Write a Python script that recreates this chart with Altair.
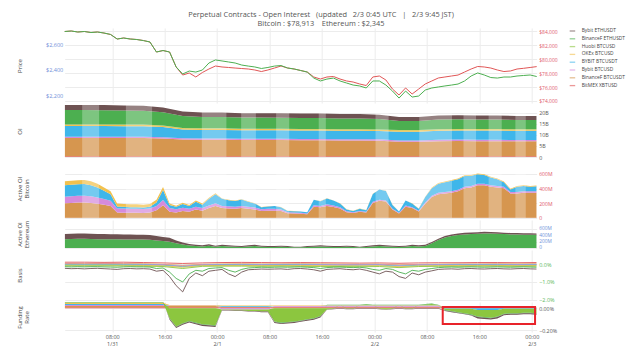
import altair as alt
import pandas as pd

SERIES = ["Bybit ETHUSDT", "BinanceF ETHUSDT", "Huobi BTCUSD", "OKEx BTCUSD",
          "BYBIT BTCUSDT", "Bybit BTCUSD", "BinanceF BTCUSDT", "BitMEX XBTUSD"]
COLORS = ["#6e5252", "#4caf50", "#8cc63f", "#f2c14e",
          "#3fb6ea", "#d58bdc", "#d6964f", "#e05555"]
# stacking position (0 = closest to zero)
STACK_RANK = {"BitMEX XBTUSD": 0, "BinanceF BTCUSDT": 1, "Bybit BTCUSD": 2,
              "BYBIT BTCUSDT": 3, "OKEx BTCUSD": 4, "Huobi BTCUSD": 5,
              "BinanceF ETHUSDT": 6, "Bybit ETHUSDT": 7}

START = pd.Timestamp("2025-01-31 00:45:00")
HOURLY = [(START + pd.Timedelta(hours=i)).strftime("%Y-%m-%dT%H:%M:%SZ") for i in range(73)]
EVERY3H = [(START + pd.Timedelta(hours=i)).strftime("%Y-%m-%dT%H:%M:%SZ") for i in range(0, 73, 3)]

# ---------------- Price (hourly) ----------------
BTC = [83930, 84000, 83860, 83930, 83790, 83860, 83710, 83500, 82860, 83000,
       82860, 82790, 82640, 82430, 81000, 81210, 81000, 78860, 77710, 78000,
       77430, 78070, 78570, 79000, 78860, 78790, 78710, 78640, 78570, 78430,
       78210, 78430, 78710, 79000, 78710, 78570, 78360, 78140, 77430, 77140,
       77430, 77500, 77140, 76860, 76710, 76430, 76210, 77430, 77570, 77000,
       75710, 74860, 75860, 75000, 75710, 76430, 76860, 77290, 77430, 77570,
       77710, 78140, 78570, 78930, 78860, 78710, 78430, 78210, 78290, 78570,
       78670, 78790, 78913]
ETH = [2698, 2702, 2694, 2698, 2690, 2694, 2686, 2675, 2639, 2647,
       2639, 2635, 2627, 2616, 2537, 2549, 2537, 2420, 2365, 2388,
       2380, 2396, 2451, 2475, 2467, 2459, 2451, 2435, 2427, 2420,
       2408, 2416, 2427, 2431, 2412, 2404, 2392, 2380, 2333, 2310,
       2325, 2333, 2310, 2294, 2278, 2271, 2255, 2310, 2310, 2278,
       2231, 2176, 2231, 2184, 2192, 2239, 2255, 2263, 2271, 2278,
       2286, 2310, 2349, 2373, 2357, 2337, 2333, 2341, 2341, 2349,
       2353, 2357, 2345]

# ---------------- OI (billions, every 3h) ----------------
OI = {
    "BitMEX XBTUSD": [0.3, 0.3, 0.3, 0.3, 0.3, 0.3, 0.3, 0.3, 0.3, 0.3, 0.3, 0.3, 0.3,
                      0.3, 0.3, 0.3, 0.3, 0.3, 0.3, 0.3, 0.3, 0.3, 0.3, 0.3, 0.3],
    "BinanceF BTCUSDT": [8.3, 8.3, 8.3, 8.3, 8.3, 8.1, 7.6, 7.5, 7.5, 7.4, 7.4, 7.4, 7.3,
                         7.3, 7.2, 7.2, 7.1, 6.6, 6.6, 6.9, 7.0, 6.9, 6.9, 6.8, 6.8],
    "Bybit BTCUSD": [0.6, 0.6, 0.6, 0.6, 0.6, 0.6, 0.6, 0.6, 0.6, 0.6, 0.6, 0.6, 0.6,
                     0.6, 0.6, 0.6, 0.6, 0.6, 0.6, 0.6, 0.6, 0.6, 0.6, 0.6, 0.6],
    "BYBIT BTCUSDT": [4.9, 4.9, 4.9, 4.8, 4.8, 4.6, 4.0, 3.9, 3.9, 3.8, 3.8, 3.8, 3.8,
                      3.8, 3.8, 3.8, 3.8, 4.0, 4.0, 4.1, 4.1, 4.2, 4.2, 4.2, 4.2],
    "OKEx BTCUSD": [0.6, 0.6, 0.6, 0.6, 0.6, 0.6, 0.6, 0.6, 0.6, 0.6, 0.6, 0.6, 0.6,
                    0.6, 0.6, 0.6, 0.6, 0.6, 0.6, 0.6, 0.6, 0.6, 0.6, 0.6, 0.6],
    "Huobi BTCUSD": [0.1, 0.1, 0.1, 0.1, 0.1, 0.1, 0.1, 0.1, 0.1, 0.1, 0.1, 0.1, 0.1,
                     0.1, 0.1, 0.1, 0.1, 0.1, 0.1, 0.1, 0.1, 0.1, 0.1, 0.1, 0.1],
    "BinanceF ETHUSDT": [6.5, 6.5, 6.4, 6.4, 6.3, 6.0, 5.4, 5.2, 5.2, 5.1, 5.1, 5.0, 5.0,
                         5.0, 4.9, 4.9, 4.8, 4.1, 4.1, 4.4, 4.4, 4.3, 4.3, 4.2, 4.2],
    "Bybit ETHUSDT": [2.3, 2.3, 2.4, 2.3, 2.3, 2.2, 2.0, 2.0, 2.0, 2.0, 2.0, 2.0, 2.0,
                      2.0, 2.0, 2.0, 1.9, 1.8, 1.8, 1.8, 1.8, 1.8, 1.8, 1.8, 1.8],
}
# lighter vertical bands seen in the OI / Active OI fills (start, end as UTC times)
BANDS_START = ["2025-01-31T03:25:00Z", "2025-01-31T10:05:00Z", "2025-01-31T21:40:00Z",
               "2025-02-01T03:40:00Z", "2025-02-01T09:00:00Z", "2025-02-01T15:30:00Z",
               "2025-02-02T00:10:00Z", "2025-02-02T06:50:00Z", "2025-02-02T13:35:00Z",
               "2025-02-02T17:25:00Z", "2025-02-02T21:30:00Z"]
BANDS_END = ["2025-01-31T06:00:00Z", "2025-01-31T14:05:00Z", "2025-02-01T01:25:00Z",
             "2025-02-01T05:55:00Z", "2025-02-01T11:00:00Z", "2025-02-01T16:35:00Z",
             "2025-02-02T02:10:00Z", "2025-02-02T11:50:00Z", "2025-02-02T15:30:00Z",
             "2025-02-02T19:25:00Z", "2025-02-02T23:05:00Z"]

# ---------------- Active OI Bitcoin (millions, hourly) ----------------
ABTC = {
    "BitMEX XBTUSD": [5, 5, 5, 5, 5, 5, 5, 5, 5, 5, 5, 5, 5, 5, 5, 5, 5, 5, 5, 5,
                      5, 5, 5, 5, 5, 5, 5, 5, 5, 5, 5, 5, 5, 5, 5, 5, 5, 5, 5, 5,
                      5, 5, 5, 5, 5, 5, 5, 5, 5, 5, 5, 5, 5, 5, 5, 5, 5, 5, 5, 5,
                      5, 5, 5, 5, 5, 5, 5, 5, 5, 5, 5, 5, 5],
    "BinanceF BTCUSDT": [195, 200, 205, 205, 200, 190, 175, 160, 70, 68,
                         66, 66, 64, 70, 100, 170, 80, 70, 90, 80,
                         110, 95, 130, 160, 130, 125, 120, 130, 120, 110,
                         90, 95, 95, 90, 60, 55, 52, 45, 150, 140,
                         160, 145, 125, 75, 62, 80, 70, 200, 230, 220,
                         110, 55, 150, 130, 85, 190, 280, 320, 330, 340,
                         360, 400, 410, 440, 440, 420, 410, 400, 330, 330,
                         340, 340, 340],
    "Bybit BTCUSD": [90, 90, 92, 92, 90, 85, 80, 70, 55, 55,
                     54, 54, 52, 55, 60, 70, 50, 45, 45, 40,
                     40, 35, 35, 35, 30, 30, 30, 30, 28, 28,
                     25, 25, 25, 22, 15, 15, 14, 12, 20, 20,
                     22, 20, 18, 12, 10, 12, 10, 15, 15, 15,
                     12, 10, 15, 12, 10, 15, 18, 20, 20, 20,
                     20, 22, 22, 22, 22, 22, 20, 20, 18, 18,
                     18, 18, 18],
    "BYBIT BTCUSDT": [155, 157, 157, 160, 152, 137, 112, 89, 27, 24,
                      22, 22, 21, 22, 47, 138, 42, 32, 52, 37,
                      67, 47, 92, 122, 97, 82, 77, 87, 69, 54,
                      27, 32, 37, 30, 17, 17, 16, 15, 72, 62,
                      80, 67, 49, 25, 20, 30, 22, 107, 137, 127,
                      50, 17, 67, 50, 27, 77, 104, 122, 132, 142,
                      142, 145, 140, 130, 120, 105, 92, 62, 34, 74,
                      72, 64, 69],
    "OKEx BTCUSD": [55, 55, 55, 55, 55, 50, 45, 40, 40, 40,
                    40, 40, 40, 40, 35, 40, 20, 15, 15, 15,
                    15, 15, 15, 15, 5, 5, 5, 5, 5, 3,
                    3, 3, 3, 3, 3, 3, 3, 3, 3, 3,
                    3, 3, 3, 3, 3, 3, 3, 3, 3, 3,
                    3, 3, 3, 3, 3, 3, 10, 10, 10, 10,
                    10, 10, 10, 10, 10, 10, 10, 10, 10, 10,
                    10, 10, 10],
}

# ---------------- Active OI Ethereum (millions, hourly) ----------------
AETH = {
    "BinanceF ETHUSDT": [280, 285, 290, 290, 285, 280, 280, 275, 275, 270,
                         270, 265, 265, 260, 240, 220, 200, 150, 110, 80,
                         60, 50, 70, 40, 60, 50, 40, 30, 50, 60,
                         40, 30, 30, 40, 30, 20, 20, 30, 40, 50,
                         40, 30, 30, 40, 30, 20, 30, 50, 60, 50,
                         40, 30, 40, 60, 50, 60, 150, 250, 330, 380,
                         410, 430, 440, 450, 460, 455, 450, 440, 430, 430,
                         420, 420, 415],
    "Bybit ETHUSDT": [160, 165, 170, 170, 165, 160, 160, 160, 160, 155,
                      155, 150, 150, 150, 140, 130, 120, 90, 60, 50,
                      40, 40, 50, 30, 40, 40, 30, 30, 40, 40,
                      30, 30, 30, 30, 30, 20, 20, 30, 30, 40,
                      30, 30, 30, 30, 30, 20, 30, 40, 40, 40,
                      30, 30, 30, 40, 40, 40, 40, 45, 50, 50,
                      50, 50, 50, 50, 50, 50, 45, 45, 45, 45,
                      45, 45, 45],
}

# ---------------- Basis (%) ----------------
BASIS_BTC = {  # every 3h
    "BitMEX XBTUSD": [0.10, 0.10, 0.09, 0.10, 0.08, 0.06, 0.03, 0.06, 0.08, 0.09, 0.08, 0.07, 0.08,
                      0.07, 0.06, 0.05, 0.06, 0.04, 0.06, 0.07, 0.07, 0.08, 0.08, 0.07, 0.08],
    "BinanceF BTCUSDT": [0.03, 0.02, 0.03, 0.02, 0.01, -0.02, -0.08, -0.02, 0.0, 0.01, 0.0, 0.0, 0.01,
                         0.0, -0.01, -0.02, -0.01, -0.05, -0.02, -0.01, 0.0, 0.0, 0.01, 0.0, 0.01],
    "Bybit BTCUSD": [0.0, -0.01, 0.0, -0.01, -0.02, -0.04, -0.12, -0.04, -0.03, -0.02, -0.03, -0.02, -0.02,
                     -0.03, -0.04, -0.04, -0.03, -0.08, -0.04, -0.03, -0.02, -0.02, -0.02, -0.03, -0.02],
    "BYBIT BTCUSDT": [-0.03, -0.04, -0.03, -0.04, -0.05, -0.07, -0.15, -0.07, -0.05, -0.05, -0.06, -0.05, -0.05,
                      -0.06, -0.07, -0.07, -0.06, -0.12, -0.07, -0.06, -0.05, -0.05, -0.05, -0.06, -0.05],
    "OKEx BTCUSD": [-0.06, -0.07, -0.06, -0.07, -0.08, -0.10, -0.18, -0.09, -0.08, -0.08, -0.09, -0.08, -0.08,
                    -0.09, -0.10, -0.10, -0.09, -0.15, -0.10, -0.09, -0.08, -0.08, -0.08, -0.09, -0.08],
    "Huobi BTCUSD": [-0.10, -0.11, -0.10, -0.11, -0.12, -0.14, -0.25, -0.13, -0.12, -0.12, -0.13, -0.12, -0.13,
                     -0.14, -0.14, -0.15, -0.14, -0.20, -0.14, -0.13, -0.13, -0.12, -0.12, -0.13, -0.12],
}
BASIS_ETH = {  # hourly
    "BinanceF ETHUSDT": [-0.15, -0.16, -0.15, -0.16, -0.15, -0.15, -0.16, -0.17, -0.18, -0.16, -0.15, -0.16,
                         -0.16, -0.17, -0.25, -0.22, -0.45, -0.80, -1.00, -0.55, -0.35, -0.40, -0.25, -0.22,
                         -0.20, -0.35, -0.45, -0.30, -0.22, -0.20, -0.18, -0.19, -0.18, -0.17, -0.18, -0.17,
                         -0.16, -0.18, -0.20, -0.25, -0.20, -0.18, -0.17, -0.19, -0.20, -0.18, -0.22, -0.30,
                         -0.35, -0.25, -0.30, -0.45, -0.55, -0.35, -0.40, -0.30, -0.25, -0.20, -0.18, -0.17,
                         -0.18, -0.17, -0.16, -0.17, -0.18, -0.17, -0.16, -0.17, -0.18, -0.17, -0.16, -0.17,
                         -0.18],
    "Bybit ETHUSDT": [-0.24, -0.26, -0.25, -0.27, -0.25, -0.24, -0.26, -0.28, -0.30, -0.26, -0.25, -0.27,
                      -0.26, -0.28, -0.40, -0.35, -0.70, -1.20, -1.55, -0.80, -0.50, -0.65, -0.40, -0.35,
                      -0.30, -0.55, -0.70, -0.45, -0.32, -0.30, -0.28, -0.29, -0.28, -0.27, -0.30, -0.26,
                      -0.25, -0.28, -0.32, -0.40, -0.30, -0.28, -0.26, -0.30, -0.32, -0.28, -0.35, -0.45,
                      -0.55, -0.40, -0.45, -0.70, -0.80, -0.50, -0.60, -0.45, -0.38, -0.30, -0.28, -0.27,
                      -0.29, -0.26, -0.25, -0.27, -0.28, -0.26, -0.25, -0.27, -0.28, -0.26, -0.25, -0.27,
                      -0.28],
}

# ---------------- Funding rate (%, hourly) ----------------
FUND = {
    "BitMEX XBTUSD": [0.01, 0.01, 0.01, 0.01, 0.01, 0.01, 0.01, 0.01, 0.01, 0.01, 0.01, 0.01,
                      0.01, 0.01, 0.01, 0.01, 0.01, 0.01, 0.01, 0.01, 0.01, 0.01, 0.01, 0.01,
                      0.01, 0.01, 0.01, 0.01, 0.01, 0.01, 0.01, 0.01, 0.01, 0.01, 0.01, 0.01,
                      0.01, 0.01, 0.01, 0.01, 0.01, 0.01, 0.01, 0.01, 0.01, 0.01, 0.01, 0.01,
                      0.01, 0.01, 0.01, 0.01, 0.01, 0.01, 0.01, 0.01, 0.01, 0.01, 0.005, 0.005,
                      0.005, 0.005, 0.005, 0.005, 0.005, 0.005, 0.005, 0.005, 0.005, 0.005, 0.005, 0.005,
                      0.005],
    "BinanceF BTCUSDT": [0.01, 0.01, 0.01, 0.01, 0.01, 0.01, 0.01, 0.01, 0.01, 0.01, 0.01, 0.01,
                         0.01, 0.01, 0.01, 0.01, 0.01, 0.01, 0.01, 0.01, 0.01, 0.01, 0.01, 0.01,
                         0.005, 0.005, 0.005, 0.005, 0.005, 0.005, 0.005, 0.005, 0.005, 0.005, 0.005, 0.005,
                         0.005, 0.005, 0.005, 0.005, 0.005, 0.005, 0.005, 0.005, 0.005, 0.005, 0.005, 0.005,
                         0.005, 0.005, 0.005, 0.005, 0.005, 0.005, 0.005, 0.005, 0.005, 0.005, 0.003, 0.003,
                         0.003, 0.003, 0.003, 0.003, 0.003, 0.003, 0.003, 0.003, 0.003, 0.003, 0.003, 0.003,
                         0.003],
    "Bybit BTCUSD": [0.01, 0.01, 0.01, 0.01, 0.01, 0.01, 0.01, 0.01, 0.01, 0.01, 0.01, 0.01,
                     0.01, 0.01, 0.01, 0.01, 0.005, 0.005, 0.005, 0.005, 0.005, 0.005, 0.005, 0.005,
                     -0.01, -0.01, -0.01, -0.01, -0.01, -0.01, -0.01, -0.01, 0.005, 0.005, 0.005, 0.005,
                     0.005, 0.005, 0.005, 0.005, 0.005, 0.005, 0.005, 0.005, 0.005, 0.005, 0.005, 0.005,
                     0.005, 0.005, 0.005, 0.005, 0.005, 0.005, 0.005, 0.005, 0.005, 0.005, 0.0, 0.0,
                     0.0, 0.0, 0.0, 0.0, 0.0, 0.0, 0.0, 0.0, 0.0, 0.0, 0.0, 0.0,
                     0.0],
    "BYBIT BTCUSDT": [0.01, 0.01, 0.01, 0.01, 0.01, 0.01, 0.01, 0.01, 0.01, 0.01, 0.01, 0.01,
                      0.01, 0.01, 0.01, 0.01, 0.0, 0.0, 0.0, 0.0, 0.0, 0.0, 0.0, 0.0,
                      0.005, 0.005, 0.005, 0.005, 0.005, 0.005, 0.005, 0.005, 0.0, 0.0, 0.0, 0.0,
                      0.0, 0.0, 0.0, 0.0, 0.005, 0.005, 0.005, 0.005, 0.005, 0.005, 0.005, 0.005,
                      0.005, 0.005, 0.005, 0.005, 0.005, 0.005, 0.005, 0.005, 0.005, 0.005, -0.005, -0.005,
                      -0.005, -0.005, -0.005, -0.015, -0.015, -0.015, -0.015, -0.005, -0.005, -0.005, -0.005, -0.005,
                      -0.005],
    "OKEx BTCUSD": [0.01, 0.01, 0.01, 0.01, 0.01, 0.01, 0.01, 0.01, 0.01, 0.01, 0.01, 0.01,
                    0.01, 0.01, 0.01, 0.01, 0.005, 0.005, 0.005, 0.005, 0.005, 0.005, 0.005, 0.005,
                    0.005, 0.005, 0.005, 0.005, 0.005, 0.005, 0.005, 0.005, 0.005, 0.005, 0.005, 0.005,
                    0.005, 0.005, 0.005, 0.005, 0.005, 0.005, 0.005, 0.005, 0.005, 0.005, 0.005, 0.005,
                    0.005, 0.005, 0.005, 0.005, 0.005, 0.005, 0.005, 0.005, 0.005, 0.005, 0.002, 0.002,
                    0.002, 0.002, 0.002, 0.002, 0.002, 0.002, 0.002, 0.002, 0.002, 0.002, 0.002, 0.002,
                    0.002],
    "Huobi BTCUSD": [0.005, 0.005, 0.005, 0.005, 0.005, 0.005, 0.005, 0.005, 0.005, 0.005, 0.005, 0.005,
                     0.005, 0.005, 0.005, 0.005, -0.09, -0.165, -0.135, -0.115, -0.13, -0.145, -0.15, -0.155,
                     -0.005, -0.005, -0.01, -0.01, -0.015, -0.015, -0.02, -0.02, -0.12, -0.13, -0.125, -0.12,
                     -0.11, -0.10, -0.09, -0.07, -0.01, -0.005, 0.0, -0.005, -0.005, 0.0, 0.005, 0.0,
                     -0.005, -0.01, -0.005, 0.0, -0.005, -0.005, 0.0, 0.005, 0.01, 0.0, -0.01, -0.02,
                     -0.03, -0.04, -0.05, -0.06, -0.065, -0.07, -0.06, -0.045, -0.04, -0.04, -0.035, -0.035,
                     -0.04],
    "BinanceF ETHUSDT": [0.005, 0.005, 0.005, 0.005, 0.005, 0.005, 0.005, 0.005, 0.005, 0.005, 0.005, 0.005,
                         0.005, 0.005, 0.005, 0.005, -0.005, -0.005, -0.005, -0.005, -0.005, -0.005, -0.005, -0.005,
                         0.0, 0.0, 0.0, 0.0, 0.0, 0.0, 0.0, 0.0, -0.005, -0.005, -0.005, -0.005,
                         -0.005, -0.005, -0.005, -0.005, 0.003, 0.003, 0.003, 0.003, 0.003, 0.003, 0.003, 0.003,
                         0.003, 0.003, 0.003, 0.003, 0.003, 0.003, 0.003, 0.003, 0.003, 0.003, -0.005, -0.005,
                         -0.005, -0.005, -0.005, -0.005, -0.005, -0.005, -0.005, -0.005, -0.005, -0.005, -0.005, -0.005,
                         -0.005],
    "Bybit ETHUSDT": [0.005, 0.005, 0.005, 0.005, 0.005, 0.005, 0.005, 0.005, 0.005, 0.005, 0.005, 0.005,
                      0.005, 0.005, 0.005, 0.005, -0.01, -0.01, -0.01, -0.01, -0.01, -0.01, -0.01, -0.01,
                      -0.005, -0.005, -0.005, -0.005, -0.005, -0.005, -0.005, -0.005, -0.008, -0.008, -0.008, -0.008,
                      -0.008, -0.008, -0.008, -0.008, -0.003, -0.003, -0.003, -0.003, -0.003, -0.003, -0.003, -0.003,
                      -0.003, -0.003, -0.003, -0.003, -0.003, -0.003, -0.003, -0.003, -0.003, -0.003, -0.005, -0.005,
                      -0.005, -0.005, -0.005, -0.012, -0.012, -0.012, -0.012, -0.008, -0.008, -0.008, -0.008, -0.008,
                      -0.008],
}

# annotation box in the funding panel
BOX = {"t": ["2025-02-02T10:25:00Z"], "t2": ["2025-02-03T00:30:00Z"], "y": [0.012], "y2": [-0.143]}


def long_df(times, table):
    rows = []
    for name, vals in table.items():
        assert len(vals) == len(times), name
        for t, v in zip(times, vals):
            rows.append({"t": t, "s": name, "v": v, "k": STACK_RANK[name]})
    return pd.DataFrame(rows)


W = 472
FONT = "Open Sans"
LFS = 5.5     # tick label font size
TFS = 6       # axis title font size
TITLE_X = -48.3
CS = alt.Scale(domain=SERIES, range=COLORS)
XS = alt.Scale(type="utc", domain=[
    alt.DateTime(year=2025, month=1, date=31, hours=0, minutes=45, utc=True),
    alt.DateTime(year=2025, month=2, date=3, hours=0, minutes=45, utc=True)])
TICKS = [alt.DateTime(year=2025, month=m, date=d, hours=h, utc=True)
         for (m, d, h) in [(1, 31, 8), (1, 31, 16), (2, 1, 0), (2, 1, 8), (2, 1, 16),
                           (2, 2, 0), (2, 2, 8), (2, 2, 16), (2, 3, 0)]]
LABEL_EXPR = ("utchours(datum.value) == 0 || (utcdate(datum.value) == 31 && utchours(datum.value) == 8)"
              " ? [utcFormat(datum.value, '%H:%M'), utcFormat(datum.value, '%-m/%-d')]"
              " : utcFormat(datum.value, '%H:%M')")


def xenc(bottom=False):
    if bottom:
        ax = alt.Axis(values=TICKS, grid=True, gridColor="#ececec", ticks=False, domain=False,
                      labels=True, labelExpr=LABEL_EXPR, labelFontSize=LFS, labelColor="#555",
                      labelPadding=3, labelLineHeight=6.5, title=None)
    else:
        ax = alt.Axis(values=TICKS, grid=True, gridColor="#ececec", ticks=False, domain=False,
                      labels=False, title=None)
    return alt.X("t:T", scale=XS, axis=ax)


def raxis(title, h, values, color, label_expr=None, fmt=None, lfs=LFS):
    kw = dict(orient="right", values=values, labelColor=color, labelFontSize=lfs, labelPadding=2,
              ticks=False, domain=False, grid=True, gridColor="#ececec",
              title=title, titleX=-W + TITLE_X, titleY=h / 2, titleAngle=270,
              titleAlign="center", titleBaseline="top", titleFontSize=TFS,
              titleFontWeight="normal", titleColor="#444", titleLineHeight=7)
    if label_expr:
        kw["labelExpr"] = label_expr
    if fmt:
        kw["format"] = fmt
    return alt.Axis(**kw)


def bands():
    # full-height rects (no y channel) that lighten the fills
    df = pd.DataFrame({"t": BANDS_START, "t2": BANDS_END})
    return alt.Chart(df).mark_rect(color="white", opacity=0.28).encode(
        x=alt.X("t:T", scale=XS, axis=None), x2="t2:T")


# ---- Price panel ----
H_PRICE = 75
price_df = pd.DataFrame({"t": HOURLY, "btc": BTC, "eth": ETH})
legend = alt.Legend(title=None, orient="right", offset=9, symbolType="M0,0H2.75",
                    symbolSize=16, symbolStrokeWidth=1.3, symbolOpacity=0.6,
                    labelFontSize=4.9, labelColor="#444", labelFont=FONT,
                    labelOffset=9, rowPadding=1.8, padding=0)
btc_line = alt.Chart(price_df).transform_calculate(s="'BitMEX XBTUSD'").mark_line(
    strokeWidth=1.0).encode(
    x=xenc(),
    y=alt.Y("btc:Q", scale=alt.Scale(domain=[73714, 84429], nice=False, zero=False),
            axis=alt.Axis(orient="right", values=[74000, 76000, 78000, 80000, 82000, 84000],
                          format="$,d", labelColor="#e05a6a", labelFontSize=5, labelPadding=2,
                          ticks=False, domain=False, grid=True, gridColor="#ececec", title=None)),
    color=alt.Color("s:N", scale=CS, legend=legend),
)
eth_line = alt.Chart(price_df).transform_calculate(s="'BinanceF ETHUSDT'").mark_line(
    strokeWidth=1.0).encode(
    x=xenc(),
    y=alt.Y("eth:Q", scale=alt.Scale(domain=[2137.3, 2725.5], nice=False, zero=False),
            axis=alt.Axis(orient="left", values=[2200, 2400, 2600], format="$,d",
                          labelColor="#6d8fd8", labelFontSize=LFS, labelPadding=2,
                          ticks=False, domain=False, grid=False,
                          title="Price", titleX=TITLE_X, titleY=H_PRICE / 2, titleAngle=270,
                          titleAlign="center", titleBaseline="top", titleFontSize=TFS,
                          titleFontWeight="normal", titleColor="#444")),
    color=alt.Color("s:N", scale=CS, legend=legend),
)
price = alt.layer(btc_line, eth_line).resolve_scale(y="independent").properties(
    width=W, height=H_PRICE)

# ---- OI panel ----
H_OI = 52
oi_area = alt.Chart(long_df(EVERY3H, OI)).mark_area(strokeWidth=0, clip=True).encode(
    x=xenc(),
    y=alt.Y("v:Q", stack="zero", scale=alt.Scale(domain=[0, 23.6], nice=False),
            axis=raxis("OI", H_OI, [0, 5, 10, 15, 20], "#555",
                       label_expr="datum.value == 0 ? '0' : datum.value + 'B'", lfs=5.3)),
    color=alt.Color("s:N", scale=CS, legend=None),
    order=alt.Order("k:Q"),
)
oi = alt.layer(oi_area, bands()).properties(width=W, height=H_OI)

# ---- Active OI Bitcoin ----
H_AB = 59
abtc_area = alt.Chart(long_df(HOURLY, ABTC)).mark_area(strokeWidth=0, clip=True).encode(
    x=xenc(),
    y=alt.Y("v:Q", stack="zero", scale=alt.Scale(domain=[0, 804], nice=False),
            axis=raxis(["Active OI", "Bitcoin"], H_AB, [0, 200, 400, 600], "#e05a6a",
                       label_expr="datum.value == 0 ? '0' : datum.value + 'M'", lfs=5.1)),
    color=alt.Color("s:N", scale=CS, legend=None),
    order=alt.Order("k:Q"),
)
abtc = alt.layer(abtc_area, bands()).properties(width=W, height=H_AB)

# ---- Active OI Ethereum ----
H_AE = 28
aeth = alt.Chart(long_df(HOURLY, AETH)).mark_area(strokeWidth=0, clip=True).encode(
    x=xenc(),
    y=alt.Y("v:Q", stack="zero", scale=alt.Scale(domain=[0, 884], nice=False),
            axis=raxis(["Active OI", "Ethereum"], H_AE, [0, 200, 400, 600], "#6d8fd8",
                       label_expr="datum.value == 0 ? '0' : datum.value + 'M'", lfs=4.8)),
    color=alt.Color("s:N", scale=CS, legend=None),
    order=alt.Order("k:Q"),
).properties(width=W, height=H_AE)

# ---- Basis ----
H_BA = 50
basis_df = pd.concat([long_df(EVERY3H, BASIS_BTC), long_df(HOURLY, BASIS_ETH)])
basis = alt.Chart(basis_df).mark_line(strokeWidth=0.9, clip=True).encode(
    x=xenc(),
    y=alt.Y("v:Q", scale=alt.Scale(domain=[-2.0, 0.778], nice=False, zero=False),
            axis=raxis("Basis", H_BA, [0, -1, -2], "#5cb85c",
                       label_expr="format(datum.value, '.1f') + '%'")),
    color=alt.Color("s:N", scale=CS, legend=None),
).properties(width=W, height=H_BA)

# ---- Funding rate ----
H_FR = 30
fund_area = alt.Chart(long_df(HOURLY, FUND)).mark_area(strokeWidth=0, clip=True).encode(
    x=xenc(bottom=True),
    y=alt.Y("v:Q", stack="zero", scale=alt.Scale(domain=[-0.2155, 0.0573], nice=False, zero=False),
            axis=raxis(["Funding", "Rate"], H_FR, [0, -0.1, -0.2], "#555",
                       label_expr="format(datum.value, '.2f') + '%'", lfs=5.3)),
    color=alt.Color("s:N", scale=CS, legend=None),
    order=alt.Order("k:Q"),
)
box = alt.Chart(pd.DataFrame(BOX)).mark_rect(filled=False, stroke="#e8232a", strokeWidth=2).encode(
    x=alt.X("t:T", scale=XS),
    x2="t2:T",
    y="y:Q",
    y2="y2:Q",
)
fund = alt.layer(fund_area, box).properties(width=W, height=H_FR)

NB = "\u00a0"
title = alt.TitleParams(
    text="Perpetual Contracts - Open Interest" + NB * 3 + "(updated" + NB * 3 + "2/3 0:45 UTC"
         + NB * 3 + "|" + NB * 3 + "2/3 9:45 JST)",
    subtitle="Bitcoin : $78,913" + NB * 4 + "Ethereum : $2,345",
    fontSize=7.4, subtitleFontSize=7.4, font=FONT, subtitleFont=FONT,
    fontWeight="normal", color="#555", subtitleColor="#555",
    anchor="middle", frame="bounds", offset=0.5, subtitlePadding=1.5,
)

chart = alt.vconcat(price, oi, abtc, aeth, basis, fund, spacing=2, bounds="flush").resolve_scale(
    color="independent").properties(
    title=title, padding={"left": 7.7, "top": 3, "right": 0, "bottom": 0}
).configure_view(stroke=None).configure_axis(labelFont=FONT, titleFont=FONT)

chart.save("out.html", embed_options={"renderer": "svg", "actions": False})
